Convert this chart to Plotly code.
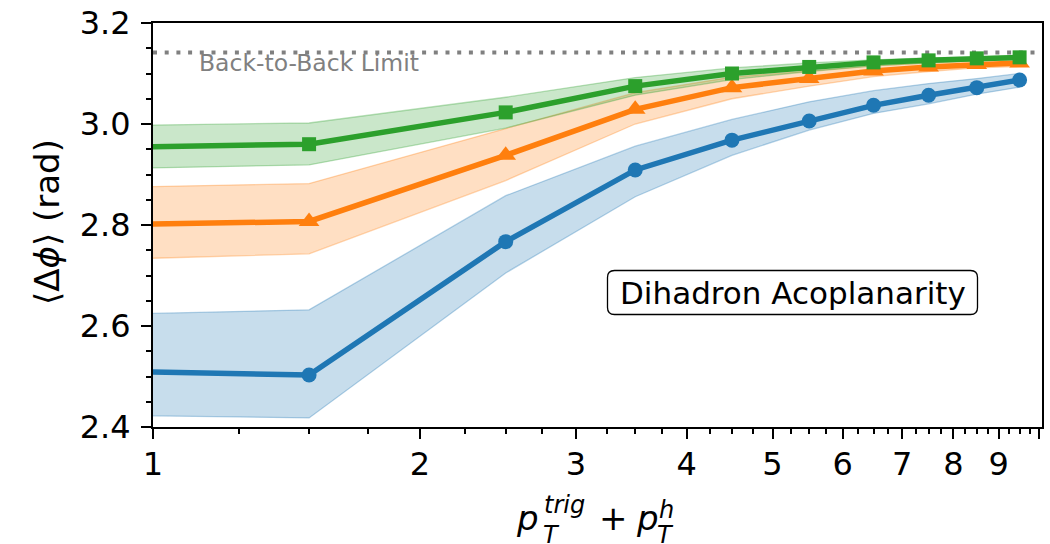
import plotly.graph_objects as go

# ---- data ----
x_vals = [0.5, 1.5, 2.5, 3.5, 4.5, 5.5, 6.5, 7.5, 8.5, 9.5]
blue_mean = [2.519, 2.503, 2.767, 2.909, 2.968, 3.006, 3.037, 3.057, 3.072, 3.087]
blue_lo = [2.429, 2.418, 2.705, 2.856, 2.938, 2.988, 3.021, 3.040, 3.059, 3.073]
blue_hi = [2.613, 2.632, 2.858, 2.956, 3.009, 3.044, 3.066, 3.080, 3.090, 3.100]
orange_mean = [2.793, 2.807, 2.938, 3.029, 3.072, 3.090, 3.105, 3.113, 3.118, 3.121]
orange_lo = [2.719, 2.743, 2.888, 3.000, 3.050, 3.075, 3.094, 3.104, 3.111, 3.114]
orange_hi = [2.866, 2.882, 2.991, 3.062, 3.093, 3.105, 3.115, 3.121, 3.125, 3.128]
green_mean = [2.946, 2.960, 3.023, 3.075, 3.100, 3.113, 3.122, 3.126, 3.130, 3.132]
green_lo = [2.903, 2.919, 2.992, 3.057, 3.088, 3.104, 3.115, 3.121, 3.126, 3.128]
green_hi = [2.991, 3.002, 3.053, 3.092, 3.111, 3.121, 3.127, 3.131, 3.133, 3.135]
back_to_back = 3.14159265

x_ticks = [1, 2, 3, 4, 5, 6, 7, 8, 9, 10]
x_ticktext = ["1", "2", "3", "4", "5", "6", "7", "8", "9", ""]
x_minor = [i / 4 for i in range(4, 41) if i % 4]
y_ticks = [2.4, 2.6, 2.8, 3.0, 3.2]
y_ticktext = ["2.4", "2.6", "2.8", "3.0", "3.2"]

series = [
    ("blue", blue_mean, blue_lo, blue_hi, (31, 119, 180), "circle", 15),
    ("orange", orange_mean, orange_lo, orange_hi, (255, 127, 14), "triangle-up", 18),
    ("green", green_mean, green_lo, green_hi, (44, 160, 44), "square", 14),
]

FONT = "DejaVu Sans"
W, H = 1050, 544
L, R, T, B = 153, 8, 23, 117
PW, PH = W - L - R, H - T - B


def px(xp, yp):
    return (xp - L) / PW, 1 - (yp - T) / PH


fig = go.Figure()

# bands
for name, m, lo, hi, c, sym, sz in series:
    rgb = "%d,%d,%d" % c
    fig.add_trace(go.Scatter(x=x_vals, y=lo, mode="lines",
                             line=dict(color=f"rgba({rgb},0.32)", width=1.3),
                             showlegend=False, hoverinfo="skip"))
    fig.add_trace(go.Scatter(x=x_vals, y=hi, mode="lines", fill="tonexty",
                             fillcolor=f"rgba({rgb},0.25)",
                             line=dict(color=f"rgba({rgb},0.32)", width=1.3),
                             showlegend=False, hoverinfo="skip"))

# lines
for name, m, lo, hi, c, sym, sz in series:
    rgb = "rgb(%d,%d,%d)" % c
    fig.add_trace(go.Scatter(x=x_vals, y=m, mode="lines+markers",
                             line=dict(color=rgb, width=5.5),
                             marker=dict(symbol=sym, size=sz, color=rgb, line=dict(width=0)),
                             showlegend=False, name=name))

# back-to-back limit
fig.add_shape(type="line", xref="paper", x0=0, x1=1, yref="y",
              y0=back_to_back, y1=back_to_back, layer="below",
              line=dict(color="rgb(128,128,128)", width=4, dash="4px,7.7px"))

annotations = []
bx, by = px(197, 63)
annotations.append(dict(text="Back-to-Back Limit", x=bx, y=by, xref="paper", yref="paper",
                        xanchor="left", yanchor="middle", showarrow=False,
                        font=dict(family=FONT, size=23.5, color="rgb(128,128,128)")))

# rounded box for the label
x0, y1 = px(607.5, 270.5)
x1, y0 = px(977.5, 314.5)
rx, ry = 7 / PW, 7 / PH
path = (f"M {x0+rx},{y1} L {x1-rx},{y1} Q {x1},{y1} {x1},{y1-ry} "
        f"L {x1},{y0+ry} Q {x1},{y0} {x1-rx},{y0} L {x0+rx},{y0} "
        f"Q {x0},{y0} {x0},{y0+ry} L {x0},{y1-ry} Q {x0},{y1} {x0+rx},{y1} Z")
fig.add_shape(type="path", xref="paper", yref="paper", path=path,
              line=dict(color="black", width=1.3), fillcolor="white", layer="above")
cx, cy = px(793, 292.5)
annotations.append(dict(text="Dihadron Acoplanarity", x=cx, y=cy, xref="paper", yref="paper",
                        xanchor="center", yanchor="middle", showarrow=False,
                        font=dict(family=FONT, size=31, color="black")))

# y title
tx, ty = px(47, 222)
annotations.append(dict(text="⟨Δ<i>ϕ</i>⟩ (rad)", x=tx, y=ty, xref="paper", yref="paper",
                        xanchor="center", yanchor="middle", textangle=-90, showarrow=False,
                        font=dict(family=FONT, size=34, color="black")))


# x title pieces
def piece(text, xl, baseline, size, italic=True):
    t = f"<i>{text}</i>" if italic else text
    ax, ay = px(xl, baseline - 0.346 * size)
    annotations.append(dict(text=t, x=ax, y=ay, xref="paper", yref="paper",
                            xanchor="left", yanchor="middle", showarrow=False,
                            font=dict(family=FONT, size=size, color="black")))


piece("p", 514, 530, 34)
piece("trig", 542, 513, 24)
piece("T", 541, 543, 24)
piece("+", 597, 530, 34, italic=False)
piece("p", 634, 530, 34)
piece("h", 657, 518, 24)
piece("T", 655, 543, 24)

fig.update_layout(
    width=W, height=H,
    margin=dict(l=L, r=R, t=T, b=B, autoexpand=False),
    plot_bgcolor="white", paper_bgcolor="white",
    font=dict(family=FONT, color="black"),
    annotations=annotations,
    showlegend=False,
    xaxis=dict(type="log", range=[0, 1.003], showgrid=False, zeroline=False,
               automargin=False,
               showline=True, linewidth=2, linecolor="black", mirror=True,
               ticks="outside", ticklen=10, tickwidth=2, tickcolor="black",
               tickmode="array", tickvals=x_ticks, ticktext=x_ticktext,
               tickfont=dict(family=FONT, size=32, color="black"),
               ticklabelstandoff=-2,
               minor=dict(tickmode="array", tickvals=x_minor, ticks="outside",
                          ticklen=5, tickwidth=1.5, tickcolor="black", showgrid=False)),
    yaxis=dict(range=[2.4, 3.2], showgrid=False, zeroline=False,
               automargin=False,
               showline=True, linewidth=2, linecolor="black", mirror=True,
               ticks="outside", ticklen=10, tickwidth=2, tickcolor="black",
               tickmode="array", tickvals=y_ticks, ticktext=y_ticktext,
               tickfont=dict(family=FONT, size=32, color="black"),
               ticklabelstandoff=4,
               minor=dict(dtick=0.05, ticks="outside", ticklen=5, tickwidth=1.5,
                          tickcolor="black", showgrid=False)),
)

fig.write_html("out.html", config={"displayModeBar": False},
               post_script="document.body.style.margin='0';document.body.style.overflow='hidden';")
